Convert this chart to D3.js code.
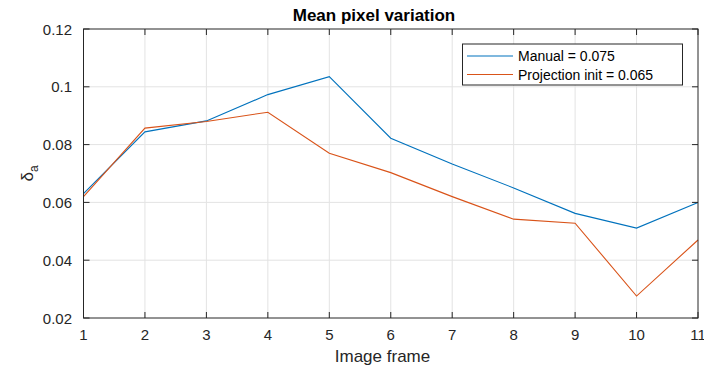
<!DOCTYPE html>
<html>
<head>
<meta charset="utf-8">
<script src="https://cdn.jsdelivr.net/npm/d3@7"></script>
<style>
body{margin:0;background:#fff;}
text{font-family:"Liberation Sans",Arial,Helvetica,sans-serif;}
</style>
</head>
<body>
<div id="chart"></div>
<script>
const frames = [1,2,3,4,5,6,7,8,9,10,11];
const manual = [0.063,0.0844,0.0882,0.0973,0.1035,0.0822,0.0733,0.065,0.0562,0.0511,0.060];
const projection = [0.062,0.0857,0.088,0.0912,0.077,0.0703,0.062,0.0542,0.0528,0.0276,0.047];
const seriesNames = ["Manual = 0.075","Projection init = 0.065"];
const seriesColors = ["#0072BD","#D95319"];
const yTicks = [0.02,0.04,0.06,0.08,0.1,0.12];

var W = 704, H = 369;
var pLeft = 83.5, pRight = 698, pTop = 29, pBottom = 318;

var svg = d3.select("#chart").append("svg")
	.attr("width",W)
	.attr("height",H);

var x = d3.scaleLinear().domain([1,11]).range([pLeft,pRight]);
var y = d3.scaleLinear().domain([0.02,0.12]).range([pBottom,pTop]);

// grid
svg.append("g").selectAll("line").data(frames.slice(1,-1)).enter().append("line")
	.attr("x1",d=>x(d)).attr("x2",d=>x(d))
	.attr("y1",pTop).attr("y2",pBottom)
	.attr("stroke","#e3e3e3").attr("stroke-width",1);
svg.append("g").selectAll("line").data(yTicks.slice(1,-1)).enter().append("line")
	.attr("x1",pLeft).attr("x2",pRight)
	.attr("y1",d=>y(d)).attr("y2",d=>y(d))
	.attr("stroke","#e3e3e3").attr("stroke-width",1);

// series
var line = d3.line().x((d,i)=>x(frames[i])).y(d=>y(d));
[manual,projection].forEach(function(s,k){
	svg.append("path")
		.attr("d",line(s))
		.attr("fill","none")
		.attr("stroke",seriesColors[k])
		.attr("stroke-width",1.1);
});

// axes (ticks inside, box)
var axisCol = "#262626";
var tl = 6;
var g = svg.append("g").attr("stroke",axisCol).attr("stroke-width",1);
g.append("rect").attr("x",pLeft).attr("y",pTop).attr("width",pRight-pLeft).attr("height",pBottom-pTop).attr("fill","none");
frames.forEach(function(f){
	g.append("line").attr("x1",x(f)).attr("x2",x(f)).attr("y1",pBottom).attr("y2",pBottom-tl);
	g.append("line").attr("x1",x(f)).attr("x2",x(f)).attr("y1",pTop).attr("y2",pTop+tl);
});
yTicks.forEach(function(t){
	g.append("line").attr("x1",pLeft).attr("x2",pLeft+tl).attr("y1",y(t)).attr("y2",y(t));
	g.append("line").attr("x1",pRight).attr("x2",pRight-tl).attr("y1",y(t)).attr("y2",y(t));
});

svg.append("g").selectAll("text").data(frames).enter().append("text")
	.attr("x",d=>x(d)).attr("y",pBottom+22)
	.attr("text-anchor","middle")
	.attr("font-size",15).attr("fill",axisCol)
	.text(d=>d);
svg.append("g").selectAll("text").data(yTicks).enter().append("text")
	.attr("x",pLeft-11.5).attr("y",d=>y(d)+5.5)
	.attr("text-anchor","end")
	.attr("font-size",15).attr("fill",axisCol)
	.text(d=>d);

svg.append("text").attr("x",374).attr("y",21)
	.attr("text-anchor","middle").attr("font-size",17).attr("font-weight","bold")
	.attr("fill","#000").text("Mean pixel variation");
svg.append("text").attr("x",382.5).attr("y",362)
	.attr("text-anchor","middle").attr("font-size",17)
	.attr("fill",axisCol).text("Image frame");
var yl = svg.append("text").attr("transform","translate(33,"+((pTop+pBottom)/2)+") rotate(-90)")
	.attr("text-anchor","middle").attr("font-size",17).attr("fill",axisCol);
yl.append("tspan").text("δ");
yl.append("tspan").attr("font-size",12).attr("dy",5).text("a");

// legend
var lg = svg.append("g");
lg.append("rect").attr("x",462.5).attr("y",44).attr("width",220).attr("height",41)
	.attr("fill","#fff").attr("stroke",axisCol).attr("stroke-width",1);
seriesNames.forEach(function(n,i){
	var cy = 56+i*18.5;
	lg.append("line").attr("x1",467).attr("x2",513).attr("y1",cy).attr("y2",cy)
		.attr("stroke",seriesColors[i]).attr("stroke-width",1.1);
	lg.append("text").attr("x",518).attr("y",cy+5).attr("font-size",14)
		.attr("fill","#000").text(n);
});
</script>
</body>
</html>
